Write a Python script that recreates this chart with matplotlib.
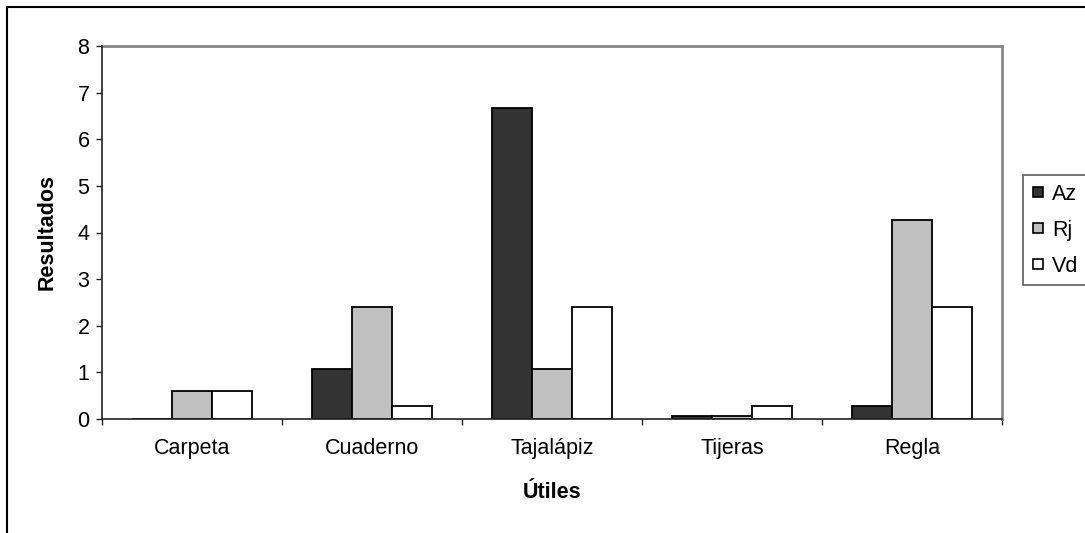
import numpy as np
import matplotlib.pyplot as plt
from matplotlib.patches import Rectangle
from matplotlib.lines import Line2D

utiles = ["Carpeta", "Cuaderno", "Tajalápiz", "Tijeras", "Regla"]
series = ["Az", "Rj", "Vd"]
az = [0.0, 1.07, 6.67, 0.07, 0.27]
rj = [0.6, 2.4, 1.07, 0.07, 4.27]
vd = [0.6, 0.27, 2.4, 0.27, 2.4]
colores = ["#333333", "#c0c0c0", "#ffffff"]
yticks = [0, 1, 2, 3, 4, 5, 6, 7, 8]

plt.rcParams["font.family"] = ["Liberation Sans", "DejaVu Sans"]
fs = 15.5

W, H = 1085, 533
fig = plt.figure(figsize=(W / 100, H / 100), dpi=100)

# area de trazado en pixeles
x0, x1, y0, y1 = 102, 1002, 46, 419
ax = fig.add_axes([x0 / W, 1 - y1 / H, (x1 - x0) / W, (y1 - y0) / H])

n = len(utiles)
x = np.arange(n)
ancho = 1 / 4.5  # separacion del 150%
for i, (datos, color) in enumerate(zip([az, rj, vd], colores)):
    ax.bar(x + (i - 1) * ancho, datos, width=ancho, color=color,
           edgecolor="black", linewidth=1.3, label=series[i], zorder=3)

ax.set_xlim(-0.5, n - 0.5)
ax.set_ylim(0, 8)
ax.set_yticks(yticks)
ax.set_yticklabels([str(v) for v in yticks], fontsize=fs)

# marcas del eje x entre categorias, etiquetas centradas
ax.set_xticks(np.arange(n + 1) - 0.5)
ax.set_xticklabels([])
ax.set_xticks(x, minor=True)
ax.set_xticklabels(utiles, minor=True, fontsize=fs)
ax.tick_params(axis="x", which="minor", length=0, pad=14)
ax.tick_params(axis="x", which="major", length=4, width=1, direction="out", color="#222222")
ax.tick_params(axis="y", length=4, width=1, direction="out", color="#222222", pad=5)

for s in ["left", "bottom"]:
    ax.spines[s].set_color("#222222")
    ax.spines[s].set_linewidth(1.2)
    ax.spines[s].set_zorder(4)
for s in ["top", "right"]:
    ax.spines[s].set_color("#888888")
    ax.spines[s].set_linewidth(2)

ax.set_xlabel("Útiles", fontsize=fs, fontweight="bold", labelpad=16)
ax.set_ylabel("Resultados", fontsize=fs, fontweight="bold", labelpad=14)

# borde exterior del grafico
fig.patches.append(Rectangle((7 / W, -0.1), 1.2, 1 - 7 / H + 0.1, transform=fig.transFigure,
                             fill=False, edgecolor="black", linewidth=1.5))

handles = [Line2D([], [], marker="s", linestyle="none", markersize=7,
                  markerfacecolor=c, markeredgecolor="black", markeredgewidth=1.2)
           for c in colores]
leg = fig.legend(handles, series, loc="upper left", bbox_to_anchor=(1023 / W, 1 - 175 / H),
                 fontsize=fs, frameon=True, fancybox=False, edgecolor="#333333",
                 handlelength=0.6, handletextpad=0.35,
                 labelspacing=0.7, borderpad=0.4, borderaxespad=0)
leg.get_frame().set_linewidth(1.2)

fig.savefig("out.png", dpi=100)
